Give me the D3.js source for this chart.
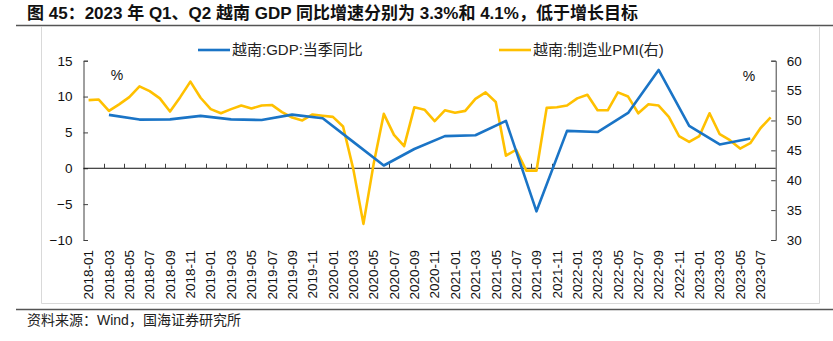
<!DOCTYPE html>
<html>
<head>
<meta charset="utf-8">
<script src="https://cdn.jsdelivr.net/npm/d3@7"></script>
<style>
  body { margin: 0; background: #fff; }
  text { font-family: "Liberation Sans", Arial, sans-serif; }
  .cjk { font-family: "Liberation Sans", "Noto Sans CJK SC", sans-serif; }
</style>
</head>
<body>
<svg id="chart" width="833" height="341"></svg>
<script>
// monthly categories, 2018-01 .. 2023-08
const months = [
  "2018-01","2018-02","2018-03","2018-04","2018-05","2018-06","2018-07","2018-08","2018-09","2018-10","2018-11","2018-12",
  "2019-01","2019-02","2019-03","2019-04","2019-05","2019-06","2019-07","2019-08","2019-09","2019-10","2019-11","2019-12",
  "2020-01","2020-02","2020-03","2020-04","2020-05","2020-06","2020-07","2020-08","2020-09","2020-10","2020-11","2020-12",
  "2021-01","2021-02","2021-03","2021-04","2021-05","2021-06","2021-07","2021-08","2021-09","2021-10","2021-11","2021-12",
  "2022-01","2022-02","2022-03","2022-04","2022-05","2022-06","2022-07","2022-08","2022-09","2022-10","2022-11","2022-12",
  "2023-01","2023-02","2023-03","2023-04","2023-05","2023-06","2023-07","2023-08"
];

// 越南:制造业PMI (right axis), one per month
const pmiValues = [
  53.4, 53.5, 51.6, 52.7, 53.9, 55.7, 54.9, 53.7, 51.5, 53.9, 56.5, 53.8,
  51.9, 51.2, 51.9, 52.5, 52.0, 52.5, 52.6, 51.4, 50.5, 50.0, 51.0, 50.8,
  50.6, 49.0, 41.9, 32.7, 42.7, 51.1, 47.6, 45.7, 52.2, 51.8, 49.9, 51.7,
  51.3, 51.6, 53.6, 54.7, 53.1, 44.1, 45.1, 41.6, 41.6, 52.1, 52.2, 52.5,
  53.7, 54.3, 51.7, 51.7, 54.7, 54.0, 51.2, 52.7, 52.5, 50.6, 47.4, 46.4,
  47.4, 51.2, 47.7, 46.7, 45.3, 46.2, 48.7, 50.5
];

// 越南:GDP:当季同比 (left axis), quarter-end months
const gdpMonths = [
  "2018-03","2018-06","2018-09","2018-12",
  "2019-03","2019-06","2019-09","2019-12",
  "2020-03","2020-06","2020-09","2020-12",
  "2021-03","2021-06","2021-09","2021-12",
  "2022-03","2022-06","2022-09","2022-12",
  "2023-03","2023-06"
];
const gdpValues = [
  7.45, 6.79, 6.82, 7.31,
  6.82, 6.73, 7.48, 6.97,
  3.68, 0.39, 2.69, 4.48,
  4.6, 6.61, -6.0, 5.22,
  5.05, 7.72, 13.71, 5.92,
  3.32, 4.14
];

const leftTicks = [-10, -5, 0, 5, 10, 15];
const rightTicks = [30, 35, 40, 45, 50, 55, 60];
const xLabels = months.filter((m, i) => i % 2 === 0);

const titleText = "图 45：2023 年 Q1、Q2 越南 GDP 同比增速分别为 3.3%和 4.1%，低于增长目标";
const sourceText = "资料来源：Wind，国海证券研究所";
const gdpName = "越南:GDP:当季同比";
const pmiName = "越南:制造业PMI(右)";

const blue = "#1a74c6", gold = "#ffc000", axisColor = "#404040";

const svg = d3.select("#chart");
const plot = {left: 83.5, right: 775.7, top: 60.7, bottom: 240};

const x = d3.scaleBand().domain(months).range([plot.left, plot.right]);
const cx = m => x(m) + x.bandwidth() / 2;
const yL = d3.scaleLinear().domain([-10, 15]).range([plot.bottom, plot.top]);
const yR = d3.scaleLinear().domain([30, 60]).range([plot.bottom, plot.top]);

// title + rules
svg.append("text").attr("class", "cjk")
  .attr("x", 27).attr("y", 19)
  .style("font-size", "17px").style("font-weight", "bold").attr("fill", "#111")
  .text(titleText);
svg.append("line").attr("x1", 16).attr("x2", 833).attr("y1", 25.5).attr("y2", 25.5)
  .attr("stroke", "#555").attr("stroke-width", 1.5);
svg.append("line").attr("x1", 16).attr("x2", 833).attr("y1", 309.5).attr("y2", 309.5)
  .attr("stroke", "#555").attr("stroke-width", 1.5);
svg.append("text").attr("class", "cjk")
  .attr("x", 27).attr("y", 325)
  .style("font-size", "14px").attr("fill", "#222")
  .text(sourceText);

// light chart frame
svg.append("path")
  .attr("d", "M41.5,27 V303.5 H819.5 V27")
  .attr("fill", "none").attr("stroke", "#d9d9d9").attr("stroke-width", 1);

// left axis
const gL = svg.append("g").attr("transform", `translate(${plot.left},0)`)
  .call(d3.axisLeft(yL).tickValues(leftTicks).tickSize(-4.5).tickPadding(11));
// right axis
const gR = svg.append("g").attr("transform", `translate(${plot.right},0)`)
  .call(d3.axisRight(yR).tickValues(rightTicks).tickSize(-4.5).tickPadding(11));
[gL, gR].forEach(g => {
  g.select(".domain").attr("stroke", axisColor);
  g.selectAll(".tick line").attr("stroke", axisColor);
  g.selectAll("text").style("font-size", "13.5px").attr("fill", "#111")
    .style("font-family", "'Liberation Sans', Arial, sans-serif");
});

// x axis at zero, ticks between every two months, pointing up
const xAxisY = yL(0);
svg.append("line").attr("x1", plot.left).attr("x2", plot.right)
  .attr("y1", xAxisY).attr("y2", xAxisY).attr("stroke", "#111").attr("stroke-width", 1);
svg.append("g").selectAll("line")
  .data(months.filter((m, i) => i > 0 && i % 2 === 0))
  .join("line")
  .attr("x1", d => Math.round(x(d)) + 0.5).attr("x2", d => Math.round(x(d)) + 0.5)
  .attr("y1", xAxisY).attr("y2", xAxisY - 4.5)
  .attr("stroke", axisColor);
svg.append("g").selectAll("text")
  .data(xLabels)
  .join("text")
  .attr("transform", d => `translate(${cx(d)},250) rotate(-90)`)
  .attr("text-anchor", "end").attr("dy", "0.35em")
  .style("font-size", "13.5px").attr("fill", "#111")
  .text(d => d);

// unit marks
svg.append("text").attr("x", 117).attr("y", 80).attr("text-anchor", "middle")
  .style("font-size", "14px").attr("fill", "#111").text("%");
svg.append("text").attr("x", 749).attr("y", 81).attr("text-anchor", "middle")
  .style("font-size", "14px").attr("fill", "#111").text("%");

// series
const pmiLine = d3.line().x((d, i) => cx(months[i])).y(d => yR(d));
svg.append("path").datum(pmiValues)
  .attr("d", pmiLine).attr("fill", "none")
  .attr("stroke", gold).attr("stroke-width", 2.6).attr("stroke-linejoin", "round");

const gdpLine = d3.line().x((d, i) => cx(gdpMonths[i])).y(d => yL(d));
svg.append("path").datum(gdpValues)
  .attr("d", gdpLine).attr("fill", "none")
  .attr("stroke", blue).attr("stroke-width", 2.6).attr("stroke-linejoin", "round");

// legend
const legend = [
  {name: gdpName, color: blue, x: 198},
  {name: pmiName, color: gold, x: 499}
];
const lg = svg.append("g").selectAll("g").data(legend).join("g")
  .attr("transform", d => `translate(${d.x},50)`);
lg.append("line").attr("x1", 0).attr("x2", 32).attr("stroke", d => d.color).attr("stroke-width", 2.6);
lg.append("text").attr("class", "cjk").attr("x", 34).attr("dy", "0.35em")
  .style("font-size", "15px").attr("fill", "#222")
  .text(d => d.name);
</script>
</body>
</html>
